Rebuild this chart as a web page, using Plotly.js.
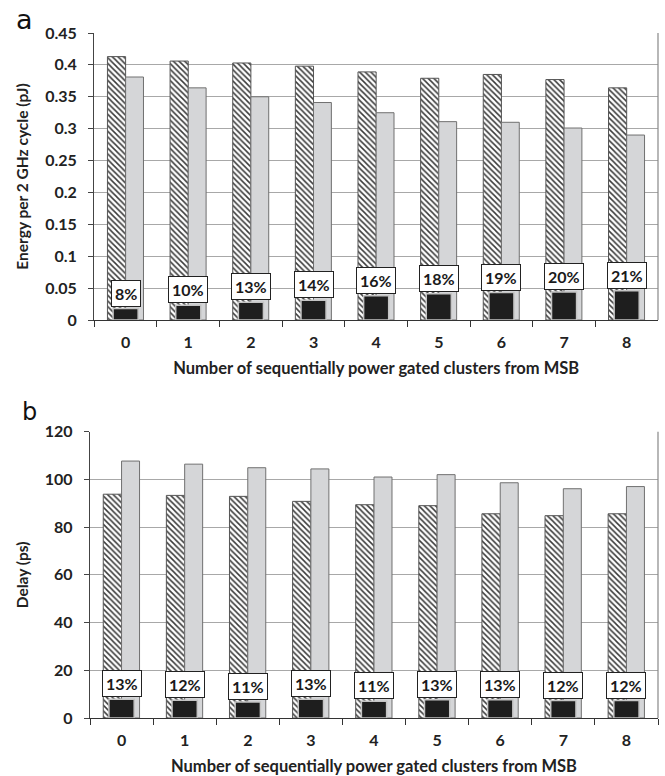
<!DOCTYPE html>
<html>
<head>
<meta charset="utf-8">
<script src="https://cdn.plot.ly/plotly-3.0.1.min.js"></script>
<style>html,body{margin:0;padding:0;background:#fff}#chart{width:665px;height:776px}</style>
</head>
<body>
<div id="chart"></div>
<script>
// ---------- data ----------
var categories = ['0','1','2','3','4','5','6','7','8'];

// panel a: energy per 2 GHz cycle (pJ)
var energyHatched = [0.413, 0.406, 0.403, 0.398, 0.389, 0.379, 0.385, 0.377, 0.364];
var energyGray    = [0.381, 0.364, 0.350, 0.341, 0.325, 0.311, 0.310, 0.301, 0.290];
var energyBlack   = [0.018, 0.023, 0.028, 0.031, 0.038, 0.041, 0.043, 0.044, 0.046];
var energyLabels  = ['8%','10%','13%','14%','16%','18%','19%','20%','21%'];
var energyTickVals = [0,0.05,0.1,0.15,0.2,0.25,0.3,0.35,0.4,0.45];
var energyTickText = ['0','0.05','0.1','0.15','0.2','0.25','0.3','0.35','0.4','0.45'];

// panel b: delay (ps)
var delayHatched = [93.8, 93.3, 92.9, 90.8, 89.4, 89.0, 85.6, 84.8, 85.6];
var delayGray    = [107.7, 106.4, 104.9, 104.4, 101.0, 102.0, 98.6, 96.1, 97.0];
var delayBlack   = [7.9, 7.4, 6.7, 7.9, 7.0, 7.7, 7.7, 7.3, 7.3];
var delayLabels  = ['13%','12%','11%','13%','11%','13%','13%','12%','12%'];
var delayTickVals = [0,20,40,60,80,100,120];
var delayTickText = ['0','20','40','60','80','100','120'];

var xTitle = 'Number of sequentially power gated clusters from MSB';

// ---------- styles ----------
var FONT = 'Lato, "Open Sans", sans-serif';
var hatchedStyle = {color:'#ffffff', line:{color:'#555555', width:1},
  pattern:{shape:'\\', fgcolor:'#3a3a3a', bgcolor:'#ffffff', size:4, solidity:0.38}};
var grayStyle = {color:'#d5d6d8', line:{color:'#707070', width:1}};
var blackStyle = {color:'#1e1e1e', line:{color:'#c4c4c4', width:1.5}};

function traces(xa, ya, h, g, b){
  return [
    {type:'bar', x:categories, y:h, xaxis:xa, yaxis:ya, offset:-0.29, width:0.29,
     marker:hatchedStyle, hoverinfo:'skip', showlegend:false},
    {type:'bar', x:categories, y:g, xaxis:xa, yaxis:ya, offset:0.0, width:0.285,
     marker:grayStyle, hoverinfo:'skip', showlegend:false},
    {type:'bar', x:categories, y:b, xaxis:xa, yaxis:ya, offset:-0.2, width:0.4,
     marker:blackStyle, hoverinfo:'skip', showlegend:false}
  ];
}

var data = traces('x','y', energyHatched, energyGray, energyBlack)
  .concat(traces('x2','y2', delayHatched, delayGray, delayBlack));

function labelAnns(xref, yref, vals, labels){
  return categories.map(function(c,i){
    return {xref:xref, yref:yref, x:c, y:vals[i], yanchor:'bottom', yshift:2,
      text:labels[i], showarrow:false, bgcolor:'#ffffff', bordercolor:'#222222',
      borderwidth:1, borderpad:3, font:{family:FONT, size:16, weight:700, color:'#1a1a1a'}};
  });
}

var annotations = labelAnns('x','y', energyBlack, energyLabels)
  .concat(labelAnns('x2','y2', delayBlack, delayLabels))
  .concat([
    {xref:'paper', yref:'paper', x:(14-90)/567.7, y:1+31/685, xanchor:'left', yanchor:'top',
     text:'a', showarrow:false, font:{family:'DejaVu Sans, sans-serif', size:27, color:'#111'}},
    {xref:'paper', yref:'paper', x:(20-90)/567.7, y:(776-58-396)/685, xanchor:'left', yanchor:'top',
     text:'b', showarrow:false, font:{family:'DejaVu Sans, sans-serif', size:24, color:'#111'}}
  ]);

function xAxis(domain, anchor){
  return {domain:domain, anchor:anchor, type:'category', range:[-0.5,8.5],
    showgrid:false, zeroline:false, showline:true, linecolor:'#333', linewidth:1.2,
    ticks:'outside', tickson:'boundaries', ticklen:6, tickcolor:'#333', tickwidth:1,
    ticklabelstandoff:8, automargin:false,
    tickfont:{family:FONT, size:16, weight:700, color:'#222'},
    title:{text:xTitle, standoff:12, font:{family:FONT, size:16.5, weight:700, color:'#222'}}};
}
function yAxis(domain, anchor, range, tv, tt, title){
  return {domain:domain, anchor:anchor, range:range, tickvals:tv, ticktext:tt,
    showgrid:true, gridcolor:'#a8a8a8', gridwidth:1, zeroline:false,
    showline:true, linecolor:'#444', linewidth:1.2,
    ticks:'outside', ticklen:5, tickcolor:'#444', ticklabelstandoff:8, automargin:false,
    tickfont:{family:FONT, size:16, weight:700, color:'#222'},
    title:{text:title, standoff:12, font:{family:FONT, size:15.5, weight:700, color:'#222'}}};
}

var layout = {
  width:665, height:776,
  margin:{l:90, r:7, t:33, b:58},
  paper_bgcolor:'#ffffff', plot_bgcolor:'#ffffff',
  barmode:'overlay',
  showlegend:false,
  xaxis: xAxis([4.3/567.7, 1], 'y'),
  yaxis: yAxis([398/685, 1], 'x', [0,0.45], energyTickVals, energyTickText, 'Energy per 2 GHz cycle (pJ)'),
  xaxis2: xAxis([0, 1], 'y2'),
  yaxis2: yAxis([0, 286.3/685], 'x2', [0,120], delayTickVals, delayTickText, 'Delay (ps)'),
  annotations: annotations,
  shapes:[
    {type:'line', xref:'paper', yref:'y domain', x0:1, x1:1, y0:0, y1:1, line:{color:'#888', width:1.2}},
    {type:'line', xref:'paper', yref:'y2 domain', x0:1, x1:1, y0:0, y1:1, line:{color:'#888', width:1.2}}
  ]
};

Plotly.newPlot('chart', data, layout, {displayModeBar:false, staticPlot:true});
</script>
</body>
</html>
